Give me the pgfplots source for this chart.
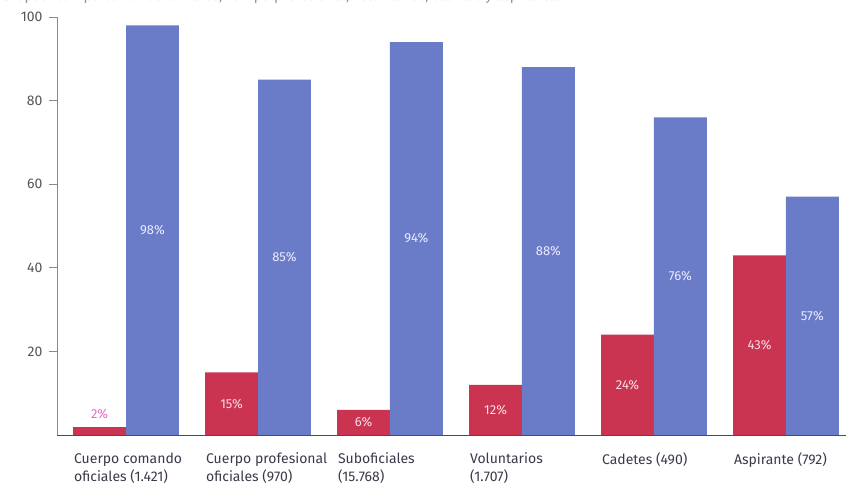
\documentclass[border=0pt]{standalone}
\usepackage{fontspec}
\setmainfont{Fira Sans}
\usepackage{pgfplots}
\pgfplotsset{compat=1.18}
\definecolor{barred}{HTML}{CB3450}
\definecolor{barblue}{HTML}{6A7CC8}
\definecolor{lblred}{HTML}{F8DCE6}
\definecolor{lblblue}{HTML}{ECEBFF}
\definecolor{lblpink}{HTML}{E070C0}
\definecolor{titlecol}{HTML}{7A93A8}
\definecolor{axisgray}{HTML}{8A8A8A}
\definecolor{ticklbl}{HTML}{555555}
\definecolor{labeltext}{HTML}{3A3A4A}
\begin{document}
\begin{tikzpicture}[x=1pt,y=1pt]
\begin{scope}
\clip (0,0) rectangle (846,484);
\node[anchor=base west, text=titlecol, font=\fontsize{14}{16}\selectfont, inner sep=0pt] at (2,483)
  {Grupos: cuerpo comando oficiales, cuerpo profesional, voluntarios, cadetes y aspirantes.};
\end{scope}
\begin{axis}[
  at={(57pt,49pt)}, anchor=south west,
  scale only axis, width=789pt, height=418pt,
  xmin=-0.523, xmax=5.455, ymin=0, ymax=100,
  axis lines=left,
  axis line style={-, draw=axisgray, line width=0.8pt},
  x axis line style={draw=black!70},
  ytick={20,40,60,80,100},
  tick align=outside,
  major tick length=8pt,
  ytick style={draw=axisgray, line width=0.6pt},
  yticklabel style={font=\fontsize{14}{16}\selectfont, text=ticklbl, xshift=-3pt},
  /pgf/number format/assume math mode=true,
  xtick={-0.42,0.58,1.58,2.58,3.58,4.58},
  xticklabels={{Cuerpo comando\\oficiales (1.421)},{Cuerpo profesional\\oficiales (970)},{Suboficiales\\(15.768)},{Voluntarios\\(1.707)},{Cadetes (490)},{Aspirante (792)}},
  xtick style={draw=none},
  xticklabel style={anchor=north west, align=left, text=labeltext, font=\fontsize{14}{18}\selectfont, yshift=-6pt},
  clip=false,
]
% red series (first bar labelled above)
\addplot[ybar, bar width=0.4, bar shift=-0.2, fill=barred, draw=none,
  nodes near coords={\pgfmathprintnumber{\pgfplotspointmeta}\%}, point meta=rawy,
  every node near coord/.append style={text=lblpink, font=\fontsize{13}{15}\selectfont, shift={(axis direction cs:-0.2,0)}, yshift=4pt}]
  coordinates {(0,2)};
\addplot[ybar, bar width=0.4, bar shift=-0.2, fill=barred, draw=none,
  nodes near coords={\pgfmathprintnumber{\pgfplotspointmeta}\%}, point meta=rawy,
  visualization depends on={rawy \as \rawy},
  every node near coord/.append style={anchor=center, text=lblred, font=\fontsize{13}{15}\selectfont, shift={(axis direction cs:-0.2,-\rawy/2)}}]
  coordinates {(1,15) (2,6) (3,12) (4,24) (5,43)};
% blue series
\addplot[ybar, bar width=0.4, bar shift=0.2, fill=barblue, draw=none,
  nodes near coords={\pgfmathprintnumber{\pgfplotspointmeta}\%}, point meta=rawy,
  visualization depends on={rawy \as \rawy},
  every node near coord/.append style={anchor=center, text=lblblue, font=\fontsize{13}{15}\selectfont, shift={(axis direction cs:0.2,-\rawy/2)}}]
  coordinates {(0,98) (1,85) (2,94) (3,88) (4,76) (5,57)};
\end{axis}
\pgfresetboundingbox
\useasboundingbox (0,0) rectangle (846,484);
\end{tikzpicture}
\end{document}
